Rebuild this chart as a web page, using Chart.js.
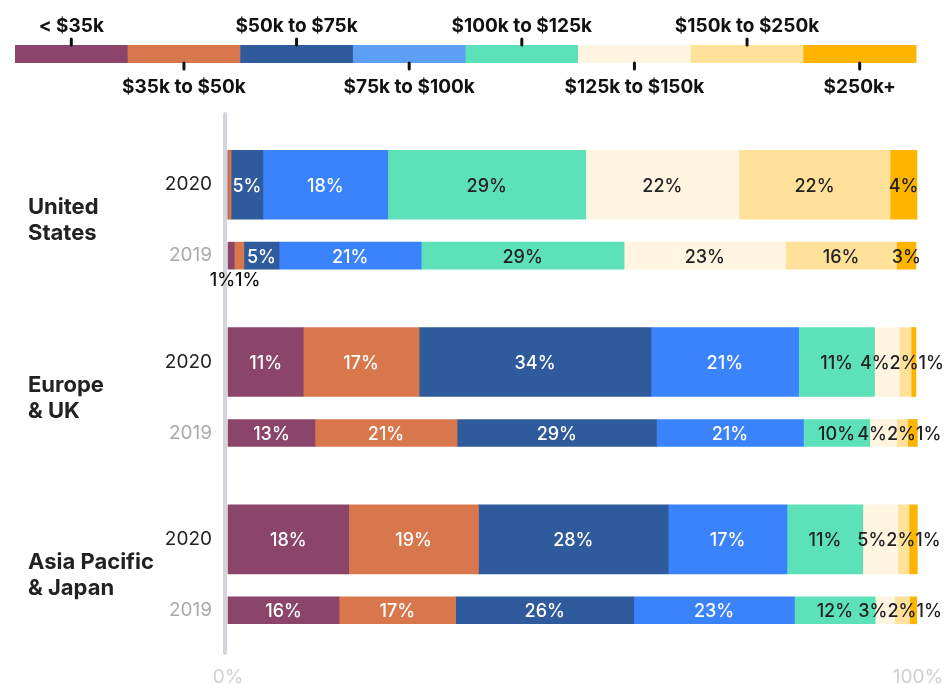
<!DOCTYPE html>
<html>
<head>
<meta charset="utf-8">
<script src="https://cdn.jsdelivr.net/npm/chart.js@4.4.1/dist/chart.umd.min.js"></script>
<style>
  html, body { margin: 0; padding: 0; background: #fff; overflow: hidden; }
  #chart { display: block; }
</style>
</head>
<body>
<canvas id="chart" width="944" height="700"></canvas>
<script>
// Income brackets (stack order, left to right)
const brackets = ["< $35k", "$35k to $50k", "$50k to $75k", "$75k to $100k", "$100k to $125k", "$125k to $150k", "$150k to $250k", "$250k+"]
const barColors = ["#8b456b", "#d9774c", "#2f5b9c", "#3b82fd", "#5ce1b9", "#fff5e0", "#ffe199", "#ffb400"]
const keyColors = ["#8b456b", "#d9774c", "#2f5b9c", "#5ba0f5", "#5ce1b9", "#fff5e0", "#ffe199", "#ffb400"]

const regionLines = [["United", "States"], ["Europe", "& UK"], ["Asia Pacific", "& Japan"]]
const years = ["2020", "2019"]
const xTicks = [0, 100]

// share of respondents (%), rows: US 2020, US 2019, EU 2020, EU 2019, APJ 2020, APJ 2019
const under35k = [0, 0.9, 10.9, 12.6, 17.5, 16.1]
const k35to50 = [0.45, 1.4, 16.8, 20.6, 18.8, 16.9]
const k50to75 = [4.6, 5.1, 33.6, 28.9, 27.5, 25.8]
const k75to100 = [18.1, 20.6, 21.4, 21.3, 17.2, 23.3]
const k100to125 = [28.7, 29.4, 11.0, 9.6, 11.0, 11.7]
const k125to150 = [22.2, 23.4, 3.6, 3.9, 5.1, 2.8]
const k150to250 = [21.9, 16.1, 1.7, 1.6, 1.6, 2.2]
const k250plus = [3.9, 2.8, 0.7, 1.4, 1.2, 1.0]

const seriesValues = [under35k, k35to50, k50to75, k75to100, k100to125, k125to150, k150to250, k250plus]

// category slots, empty ones act as spacing between regions
const slots = [0, 2, 5, 7, 10, 12]
const categories = Array(13).fill("")
slots.forEach((s, k) => { categories[s] = years[k % 2] })

const datasets = []
seriesValues.forEach((vals, b) => {
    years.forEach((yr, yi) => {
        const data = Array(categories.length).fill(null)
        regionLines.forEach((r, ri) => {
            const k = ri * 2 + yi
            data[slots[k]] = vals[k]
        })
        datasets.push({
            label: brackets[b] + " " + yr,
            data: data,
            backgroundColor: barColors[b],
            borderWidth: 0,
            barThickness: yi === 0 ? 69 : 27,
            clip: false,
            bracket: b,
            yearIdx: yi,
        })
    })
})

const labelFont = "500 18px Inter"

// legend strip at the top
const keyPlugin = {
    id: "key",
    afterDraw(chart) {
        const ctx = chart.ctx
        const x0 = 15, x1 = 916, top = 45, bottom = 63
        const w = (x1 - x0) / brackets.length
        ctx.save()
        brackets.forEach((name, i) => {
            ctx.fillStyle = keyColors[i]
            ctx.fillRect(x0 + i * w, top, w + 0.5, bottom - top)
        })
        ctx.font = "700 19px Inter"
        ctx.textAlign = "center"
        ctx.textBaseline = "alphabetic"
        ctx.strokeStyle = "#111"
        ctx.lineWidth = 3
        ctx.lineCap = "round"
        brackets.forEach((name, i) => {
            const cx = x0 + (i + 0.5) * w
            const up = i % 2 === 0
            ctx.beginPath()
            if (up) {
                ctx.moveTo(cx, 39)
                ctx.lineTo(cx, 45)
            } else {
                ctx.moveTo(cx, 63)
                ctx.lineTo(cx, 69)
            }
            ctx.stroke()
            ctx.fillStyle = "#111"
            ctx.fillText(name, cx, up ? 31.5 : 93)
        })
        ctx.restore()
    },
}

// grey zero line
const axisLinePlugin = {
    id: "axisLine",
    beforeDatasetsDraw(chart) {
        const ctx = chart.ctx
        const area = chart.chartArea
        const x = chart.scales.x.getPixelForValue(0) - 3
        ctx.save()
        ctx.strokeStyle = "#d3d5db"
        ctx.lineWidth = 4
        ctx.lineCap = "round"
        ctx.beginPath()
        ctx.moveTo(x, area.top - 53)
        ctx.lineTo(x, area.bottom + 25)
        ctx.stroke()
        ctx.restore()
    },
}

// place a row of labels so they do not overlap
function spread(items) {
    items.sort((a, b) => a.cx - b.cx)
    let clusters = items.map((it) => ({ items: [it], w: it.w, c: it.cx }))
    let merged = true
    while (merged) {
        merged = false
        for (let i = 0; i < clusters.length - 1; i++) {
            const a = clusters[i], b = clusters[i + 1]
            if (a.c + a.w / 2 > b.c - b.w / 2) {
                const all = a.items.concat(b.items)
                const c = all.reduce((s, it) => s + it.cx, 0) / all.length
                clusters.splice(i, 2, { items: all, w: a.w + b.w, c: c })
                merged = true
                break
            }
        }
    }
    clusters.forEach((cl) => {
        let x = cl.c - cl.w / 2
        cl.items.forEach((it) => {
            it.px = x + it.w / 2
            x += it.w
        })
    })
    return items
}

// percentage labels on bars
const valueLabelPlugin = {
    id: "valueLabels",
    afterDatasetsDraw(chart) {
        const ctx = chart.ctx
        ctx.save()
        ctx.font = labelFont
        ctx.textAlign = "center"
        ctx.textBaseline = "middle"
        slots.forEach((slot, k) => {
            const yi = k % 2
            const inline = []
            const below = []
            let cum = 0
            let barY = 0, barBottom = 0
            chart.data.datasets.forEach((ds, di) => {
                if (ds.yearIdx !== yi) return
                const v = ds.data[slot]
                const el = chart.getDatasetMeta(di).data[slot]
                const p = el.getProps(["x", "y", "base", "height"], true)
                barY = p.y
                barBottom = p.y + p.height / 2
                const start = cum
                cum += v || 0
                const r = Math.round(v || 0)
                if (!r) return
                const text = r + "%"
                const w = ctx.measureText(text).width
                const segW = Math.abs(p.x - p.base)
                const item = { text, w, cx: (p.x + p.base) / 2 }
                if (v < 2 && start < 3) {
                    item.color = "#111"
                    below.push(item)
                } else {
                    item.color = ds.bracket < 4 && w + 2 <= segW ? "#fff" : "#222"
                    inline.push(item)
                }
            })
            spread(inline).forEach((it) => {
                ctx.fillStyle = it.color
                ctx.fillText(it.text, it.px, barY + 1.5)
            })
            spread(below).forEach((it) => {
                ctx.fillStyle = it.color
                ctx.fillText(it.text, it.px, barBottom + 11)
            })
        })
        ctx.restore()
    },
}

// region names on the left
const regionPlugin = {
    id: "regions",
    afterDraw(chart) {
        const ctx = chart.ctx
        const yScale = chart.scales.y
        ctx.save()
        ctx.font = "700 22px Inter"
        ctx.fillStyle = "#222"
        ctx.textAlign = "left"
        ctx.textBaseline = "alphabetic"
        regionLines.forEach((lines, ri) => {
            const y1 = yScale.getPixelForValue(slots[ri * 2])
            const y2 = yScale.getPixelForValue(slots[ri * 2 + 1])
            const mid = (y1 + y2) / 2
            ctx.fillText(lines[0], 28, mid - 6)
            ctx.fillText(lines[1], 28, mid + 20)
        })
        ctx.restore()
    },
}

new Chart(document.getElementById("chart"), {
    type: "bar",
    data: { labels: categories, datasets: datasets },
    options: {
        indexAxis: "y",
        responsive: false,
        animation: false,
        layout: { padding: { top: 167, right: 26, left: 0, bottom: 0 } },
        plugins: {
            legend: { display: false },
            tooltip: { enabled: false },
        },
        scales: {
            x: {
                stacked: true,
                min: 0,
                max: 100,
                grid: { display: false, drawTicks: false },
                border: { display: false },
                afterBuildTicks: (scale) => {
                    scale.ticks = xTicks.map((v) => ({ value: v }))
                },
                afterFit: (scale) => {
                    scale.height = 72
                    scale.paddingLeft = 0
                    scale.paddingRight = 0
                },
                ticks: {
                    padding: 38,
                    color: "#d0d0d0",
                    font: { family: "Inter", size: 19 },
                    maxRotation: 0,
                    autoSkip: false,
                    callback: (v) => v + "%",
                },
            },
            y: {
                stacked: true,
                grid: { display: false, drawTicks: false },
                border: { display: false },
                afterFit: (scale) => {
                    scale.width = 228
                    scale.paddingTop = 0
                    scale.paddingBottom = 0
                },
                ticks: {
                    autoSkip: false,
                    padding: 16,
                    font: { family: "Inter", size: 19 },
                    color: (c) => (c.tick && c.tick.label === "2019" ? "#aaaaaa" : "#222222"),
                },
            },
        },
    },
    plugins: [keyPlugin, axisLinePlugin, valueLabelPlugin, regionPlugin],
})
</script>
</body>
</html>
